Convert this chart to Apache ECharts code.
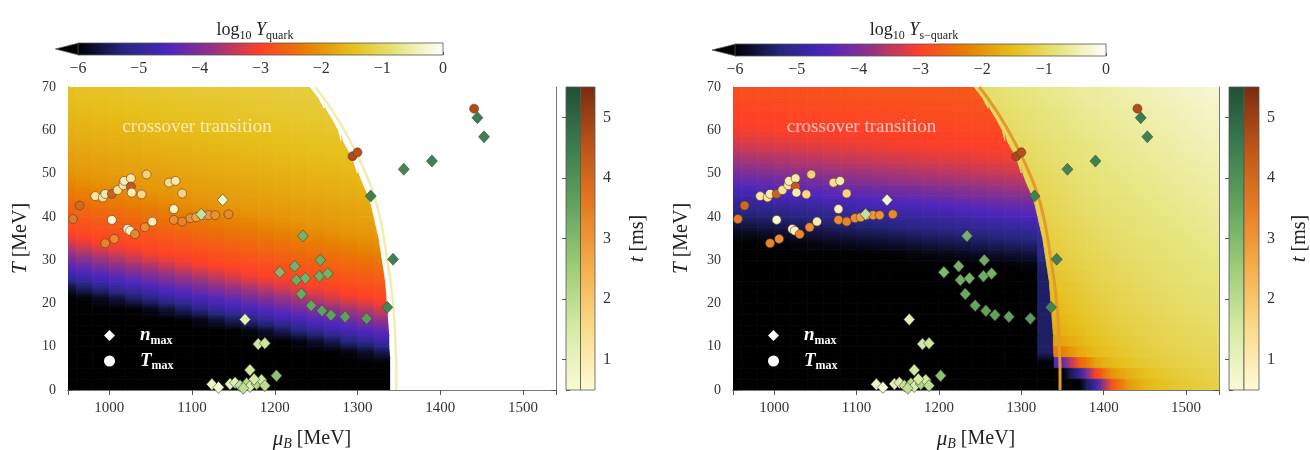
<!DOCTYPE html>
<html><head><meta charset="utf-8">
<script src="https://cdn.jsdelivr.net/npm/echarts@6/dist/echarts.min.js"></script>
<style>html,body{margin:0;padding:0;background:#fff}#c{width:1310px;height:450px}</style>
</head><body><div id="c"></div>
<script>
// ---------- grid of the field (cell centres) ----------
const rowT = [68.75,66.25,63.75,61.25,58.75,56.25,53.75,51.25,48.75,46.25,43.75,41.25,38.75,36.25,33.75,31.25,28.75,26.25,23.75,21.25,18.75,16.25,13.75,11.25,8.75,6.25,3.75,1.25];
// phase boundary muB at the row edges T = 70, 67.5, ..., 0
const boundaryEdgeT  = [70,67.5,65,62.5,60,57.5,55,52.5,50,47.5,45,42.5,40,37.5,35,32.5,30,27.5,25,22.5,20,17.5,15,12.5,10,7.5,5,2.5,0];
const boundaryEdgeMu = [1243,1253,1262,1270,1277,1283,1290,1296,1302,1307,1313,1317,1320,1323,1326,1328,1330,1332,1334,1335,1336,1337,1338,1339,1339,1340,1340,1340,1340];
const muCols = [950,970,990,1010,1030,1050,1070,1090,1110,1130,1150,1170,1190,1210,1230,1250,1270,1290,1310,1330,1350,1370,1390,1410,1430,1450,1470,1490,1510,1530,1550];

// log10 Y_quark, hadronic side (from mu=950 up to the boundary)
const quarkHadron = [
[-1.47,-1.45,-1.44,-1.42,-1.40,-1.38,-1.36,-1.34,-1.33,-1.31,-1.30,-1.29,-1.28,-1.26,-1.25,-1.24],
[-1.52,-1.50,-1.48,-1.47,-1.45,-1.44,-1.42,-1.40,-1.39,-1.37,-1.36,-1.34,-1.33,-1.31,-1.30,-1.29,-1.27],
[-1.58,-1.56,-1.54,-1.52,-1.50,-1.49,-1.47,-1.45,-1.44,-1.42,-1.40,-1.39,-1.37,-1.36,-1.34,-1.33,-1.31],
[-1.66,-1.64,-1.61,-1.59,-1.57,-1.54,-1.53,-1.51,-1.49,-1.47,-1.46,-1.44,-1.42,-1.41,-1.39,-1.38,-1.36],
[-1.73,-1.70,-1.68,-1.66,-1.64,-1.61,-1.59,-1.57,-1.55,-1.53,-1.51,-1.49,-1.48,-1.46,-1.44,-1.43,-1.41,-1.39],
[-1.80,-1.78,-1.75,-1.73,-1.71,-1.68,-1.66,-1.64,-1.62,-1.59,-1.57,-1.55,-1.53,-1.51,-1.50,-1.48,-1.46,-1.44],
[-1.88,-1.85,-1.83,-1.81,-1.78,-1.76,-1.73,-1.71,-1.69,-1.66,-1.64,-1.62,-1.60,-1.57,-1.55,-1.53,-1.51,-1.50],
[-1.96,-1.93,-1.91,-1.88,-1.86,-1.83,-1.81,-1.78,-1.76,-1.74,-1.71,-1.69,-1.67,-1.64,-1.62,-1.60,-1.58,-1.55,-1.53],
[-2.09,-2.03,-1.99,-1.96,-1.94,-1.91,-1.89,-1.86,-1.84,-1.81,-1.79,-1.76,-1.74,-1.72,-1.69,-1.67,-1.65,-1.62,-1.60],
[-2.27,-2.21,-2.15,-2.10,-2.04,-1.99,-1.97,-1.94,-1.92,-1.89,-1.86,-1.84,-1.81,-1.79,-1.76,-1.74,-1.72,-1.69,-1.67],
[-2.45,-2.39,-2.33,-2.28,-2.22,-2.16,-2.10,-2.05,-2.00,-1.97,-1.94,-1.92,-1.89,-1.87,-1.84,-1.82,-1.79,-1.77,-1.74],
[-2.62,-2.56,-2.51,-2.46,-2.40,-2.34,-2.28,-2.22,-2.17,-2.11,-2.05,-2.00,-1.97,-1.95,-1.92,-1.90,-1.87,-1.84,-1.82],
[-2.80,-2.74,-2.69,-2.63,-2.57,-2.51,-2.46,-2.40,-2.35,-2.29,-2.23,-2.18,-2.12,-2.06,-2.00,-1.98,-1.95,-1.92,-1.90,-1.87],
[-2.95,-2.91,-2.86,-2.81,-2.75,-2.69,-2.63,-2.58,-2.52,-2.47,-2.41,-2.36,-2.30,-2.24,-2.18,-2.13,-2.07,-2.01,-1.98,-1.95],
[-3.35,-3.19,-3.06,-2.96,-2.91,-2.86,-2.81,-2.76,-2.70,-2.65,-2.59,-2.53,-2.48,-2.42,-2.36,-2.31,-2.25,-2.19,-2.13,-2.08],
[-3.85,-3.69,-3.53,-3.37,-3.21,-3.07,-2.97,-2.92,-2.87,-2.82,-2.76,-2.71,-2.65,-2.59,-2.53,-2.48,-2.43,-2.37,-2.31,-2.26],
[-4.35,-4.19,-4.03,-3.87,-3.71,-3.55,-3.39,-3.23,-3.08,-2.99,-2.92,-2.88,-2.83,-2.77,-2.71,-2.66,-2.60,-2.54,-2.49,-2.44],
[-4.85,-4.69,-4.53,-4.37,-4.21,-4.05,-3.89,-3.73,-3.57,-3.41,-3.25,-3.09,-2.99,-2.93,-2.88,-2.84,-2.78,-2.72,-2.67,-2.61],
[-5.60,-5.34,-5.10,-4.88,-4.70,-4.55,-4.39,-4.23,-4.07,-3.91,-3.75,-3.59,-3.43,-3.27,-3.11,-3.01,-2.94,-2.89,-2.84,-2.79],
[-6,-5.95,-5.82,-5.62,-5.37,-5.13,-4.90,-4.72,-4.57,-4.41,-4.25,-4.09,-3.93,-3.77,-3.61,-3.45,-3.29,-3.13,-3.02,-2.94],
[-6,-6,-6,-6,-5.96,-5.84,-5.65,-5.40,-5.15,-4.91,-4.74,-4.59,-4.43,-4.27,-4.11,-3.95,-3.79,-3.63,-3.47,-3.31],
[-6,-6,-6,-6,-6,-6,-6,-5.97,-5.86,-5.67,-5.44,-5.19,-4.96,-4.77,-4.61,-4.45,-4.29,-4.13,-3.97,-3.81],
[-6,-6,-6,-6,-6,-6,-6,-6,-6,-6,-5.98,-5.89,-5.72,-5.48,-5.22,-4.99,-4.79,-4.63,-4.47,-4.31],
[-6,-6,-6,-6,-6,-6,-6,-6,-6,-6,-6,-6,-6,-6,-5.90,-5.75,-5.52,-5.24,-5.03,-4.81],
[-6,-6,-6,-6,-6,-6,-6,-6,-6,-6,-6,-6,-6,-6,-6,-6,-6,-5.92,-5.77,-5.55],
[-6,-6,-6,-6,-6,-6,-6,-6,-6,-6,-6,-6,-6,-6,-6,-6,-6,-6,-6,-6],
[-6,-6,-6,-6,-6,-6,-6,-6,-6,-6,-6,-6,-6,-6,-6,-6,-6,-6,-6,-6],
[-6,-6,-6,-6,-6,-6,-6,-6,-6,-6,-6,-6,-6,-6,-6,-6,-6,-6,-6,-6]
];
// log10 Y_quark, deconfined side (from the boundary up to mu=1550): Y = 1
const quarkDeconf = [
[0,0,0,0,0,0,0,0,0,0,0,0,0,0,0,0],
[0,0,0,0,0,0,0,0,0,0,0,0,0,0,0,0],
[0,0,0,0,0,0,0,0,0,0,0,0,0,0,0],
[0,0,0,0,0,0,0,0,0,0,0,0,0,0,0],
[0,0,0,0,0,0,0,0,0,0,0,0,0,0,0],
[0,0,0,0,0,0,0,0,0,0,0,0,0,0],
[0,0,0,0,0,0,0,0,0,0,0,0,0,0],
[0,0,0,0,0,0,0,0,0,0,0,0,0,0],
[0,0,0,0,0,0,0,0,0,0,0,0,0],
[0,0,0,0,0,0,0,0,0,0,0,0,0],
[0,0,0,0,0,0,0,0,0,0,0,0,0],
[0,0,0,0,0,0,0,0,0,0,0,0,0],
[0,0,0,0,0,0,0,0,0,0,0,0],
[0,0,0,0,0,0,0,0,0,0,0,0],
[0,0,0,0,0,0,0,0,0,0,0,0],
[0,0,0,0,0,0,0,0,0,0,0,0],
[0,0,0,0,0,0,0,0,0,0,0,0],
[0,0,0,0,0,0,0,0,0,0,0,0],
[0,0,0,0,0,0,0,0,0,0,0,0],
[0,0,0,0,0,0,0,0,0,0,0,0],
[0,0,0,0,0,0,0,0,0,0,0,0],
[0,0,0,0,0,0,0,0,0,0,0,0],
[0,0,0,0,0,0,0,0,0,0,0,0],
[0,0,0,0,0,0,0,0,0,0,0,0],
[0,0,0,0,0,0,0,0,0,0,0,0],
[0,0,0,0,0,0,0,0,0,0,0,0],
[0,0,0,0,0,0,0,0,0,0,0,0],
[0,0,0,0,0,0,0,0,0,0,0,0]
];
// log10 Y_s-quark, hadronic side
const squarkHadron = [
[-2.85,-2.84,-2.83,-2.82,-2.82,-2.81,-2.80,-2.79,-2.78,-2.77,-2.77,-2.76,-2.75,-2.74,-2.73,-2.72],
[-2.92,-2.91,-2.90,-2.89,-2.88,-2.87,-2.86,-2.85,-2.84,-2.83,-2.83,-2.82,-2.81,-2.80,-2.79,-2.78,-2.77],
[-2.98,-2.97,-2.96,-2.95,-2.94,-2.93,-2.92,-2.91,-2.90,-2.89,-2.88,-2.87,-2.86,-2.86,-2.85,-2.84,-2.83],
[-3.04,-3.03,-3.02,-3.00,-3.00,-2.99,-2.98,-2.97,-2.97,-2.96,-2.95,-2.94,-2.93,-2.92,-2.91,-2.90,-2.89],
[-3.17,-3.14,-3.12,-3.09,-3.07,-3.06,-3.05,-3.04,-3.03,-3.02,-3.00,-3.00,-2.99,-2.98,-2.97,-2.97,-2.96,-2.95],
[-3.38,-3.35,-3.30,-3.28,-3.25,-3.22,-3.20,-3.17,-3.14,-3.12,-3.09,-3.07,-3.06,-3.05,-3.04,-3.03,-3.02,-3.00],
[-3.62,-3.59,-3.55,-3.52,-3.48,-3.45,-3.41,-3.38,-3.34,-3.31,-3.28,-3.25,-3.22,-3.20,-3.17,-3.14,-3.12,-3.09],
[-3.92,-3.87,-3.82,-3.77,-3.73,-3.69,-3.66,-3.62,-3.59,-3.55,-3.51,-3.48,-3.44,-3.41,-3.38,-3.34,-3.31,-3.28,-3.25],
[-4.25,-4.21,-4.16,-4.12,-4.07,-4.02,-3.97,-3.92,-3.87,-3.82,-3.77,-3.73,-3.69,-3.65,-3.62,-3.58,-3.55,-3.51,-3.48],
[-4.58,-4.53,-4.48,-4.42,-4.38,-4.34,-4.29,-4.25,-4.20,-4.16,-4.12,-4.07,-4.02,-3.97,-3.91,-3.86,-3.82,-3.77,-3.72],
[-4.92,-4.87,-4.82,-4.77,-4.72,-4.67,-4.62,-4.58,-4.53,-4.48,-4.42,-4.38,-4.33,-4.29,-4.25,-4.20,-4.16,-4.12,-4.07],
[-5.25,-5.21,-5.16,-5.12,-5.07,-5.03,-4.98,-4.92,-4.87,-4.82,-4.77,-4.72,-4.67,-4.62,-4.57,-4.52,-4.47,-4.42,-4.37],
[-5.55,-5.51,-5.46,-5.42,-5.38,-5.33,-5.29,-5.25,-5.20,-5.16,-5.12,-5.07,-5.03,-4.98,-4.92,-4.87,-4.82,-4.77,-4.72,-4.66],
[-5.85,-5.81,-5.76,-5.72,-5.68,-5.63,-5.59,-5.55,-5.51,-5.46,-5.42,-5.37,-5.33,-5.29,-5.25,-5.20,-5.16,-5.12,-5.07,-4.85],
[-6,-6,-5.98,-5.96,-5.94,-5.90,-5.87,-5.85,-5.80,-5.76,-5.72,-5.67,-5.63,-5.59,-5.55,-5.50,-5.46,-5.42,-5.37,-5.00],
[-6,-6,-6,-6,-6,-6,-6,-6,-6,-5.98,-5.96,-5.94,-5.90,-5.87,-5.84,-5.80,-5.76,-5.72,-5.67,-5.10],
[-6,-6,-6,-6,-6,-6,-6,-6,-6,-6,-6,-6,-6,-6,-6,-6,-5.98,-5.96,-5.93,-5.35],
[-6,-6,-6,-6,-6,-6,-6,-6,-6,-6,-6,-6,-6,-6,-6,-6,-6,-6,-6,-5.40],
[-6,-6,-6,-6,-6,-6,-6,-6,-6,-6,-6,-6,-6,-6,-6,-6,-6,-6,-6,-5.40],
[-6,-6,-6,-6,-6,-6,-6,-6,-6,-6,-6,-6,-6,-6,-6,-6,-6,-6,-6,-5.40],
[-6,-6,-6,-6,-6,-6,-6,-6,-6,-6,-6,-6,-6,-6,-6,-6,-6,-6,-6,-5.40],
[-6,-6,-6,-6,-6,-6,-6,-6,-6,-6,-6,-6,-6,-6,-6,-6,-6,-6,-6,-5.40],
[-6,-6,-6,-6,-6,-6,-6,-6,-6,-6,-6,-6,-6,-6,-6,-6,-6,-6,-6,-5.40],
[-6,-6,-6,-6,-6,-6,-6,-6,-6,-6,-6,-6,-6,-6,-6,-6,-6,-6,-6,-5.40],
[-6,-6,-6,-6,-6,-6,-6,-6,-6,-6,-6,-6,-6,-6,-6,-6,-6,-6,-6,-5.40],
[-6,-6,-6,-6,-6,-6,-6,-6,-6,-6,-6,-6,-6,-6,-6,-6,-6,-6,-6,-6],
[-6,-6,-6,-6,-6,-6,-6,-6,-6,-6,-6,-6,-6,-6,-6,-6,-6,-6,-6,-6],
[-6,-6,-6,-6,-6,-6,-6,-6,-6,-6,-6,-6,-6,-6,-6,-6,-6,-6,-6,-6]
];
// log10 Y_s-quark, deconfined side (ends at mu=1550)
const squarkDeconf = [
[-0.95,-0.88,-0.82,-0.76,-0.70,-0.65,-0.60,-0.56,-0.52,-0.48,-0.44,-0.40,-0.36,-0.32,-0.28,-0.25],
[-0.98,-0.91,-0.85,-0.79,-0.73,-0.68,-0.63,-0.59,-0.55,-0.51,-0.47,-0.43,-0.39,-0.35,-0.31,-0.28],
[-0.97,-0.90,-0.84,-0.78,-0.72,-0.67,-0.62,-0.58,-0.54,-0.50,-0.46,-0.42,-0.38,-0.34,-0.31],
[-1.00,-0.93,-0.87,-0.81,-0.75,-0.70,-0.65,-0.61,-0.57,-0.53,-0.49,-0.45,-0.41,-0.37,-0.34],
[-1.04,-0.97,-0.90,-0.84,-0.78,-0.73,-0.68,-0.64,-0.60,-0.56,-0.52,-0.48,-0.44,-0.40,-0.37],
[-1.03,-0.96,-0.89,-0.83,-0.77,-0.72,-0.67,-0.63,-0.59,-0.55,-0.51,-0.47,-0.43,-0.40],
[-1.07,-0.99,-0.92,-0.86,-0.80,-0.75,-0.70,-0.66,-0.62,-0.58,-0.54,-0.50,-0.46,-0.43],
[-1.11,-1.03,-0.95,-0.89,-0.83,-0.78,-0.73,-0.69,-0.65,-0.61,-0.57,-0.53,-0.49,-0.46],
[-1.08,-1.00,-0.93,-0.87,-0.81,-0.76,-0.72,-0.68,-0.64,-0.60,-0.56,-0.52,-0.49],
[-1.12,-1.04,-0.97,-0.90,-0.84,-0.79,-0.75,-0.71,-0.67,-0.63,-0.59,-0.55,-0.52],
[-1.16,-1.08,-1.00,-0.93,-0.87,-0.82,-0.78,-0.74,-0.70,-0.66,-0.62,-0.58,-0.55],
[-1.20,-1.11,-1.03,-0.96,-0.90,-0.85,-0.81,-0.77,-0.73,-0.69,-0.65,-0.61,-0.58],
[-1.18,-1.09,-1.01,-0.95,-0.89,-0.84,-0.80,-0.76,-0.72,-0.68,-0.64,-0.61],
[-1.22,-1.13,-1.05,-0.98,-0.92,-0.87,-0.83,-0.79,-0.75,-0.71,-0.67,-0.64],
[-1.27,-1.18,-1.09,-1.02,-0.96,-0.91,-0.86,-0.82,-0.78,-0.74,-0.70,-0.67],
[-1.32,-1.22,-1.13,-1.06,-1.00,-0.94,-0.89,-0.85,-0.81,-0.77,-0.73,-0.70],
[-1.38,-1.28,-1.18,-1.10,-1.03,-0.97,-0.92,-0.88,-0.84,-0.80,-0.76,-0.73],
[-1.44,-1.34,-1.23,-1.14,-1.07,-1.01,-0.96,-0.91,-0.87,-0.83,-0.79,-0.76],
[-1.50,-1.40,-1.28,-1.18,-1.11,-1.05,-0.99,-0.94,-0.90,-0.86,-0.82,-0.79],
[-1.56,-1.46,-1.33,-1.23,-1.15,-1.08,-1.02,-0.97,-0.93,-0.89,-0.85,-0.82],
[-1.62,-1.52,-1.39,-1.28,-1.19,-1.12,-1.06,-1.01,-0.96,-0.92,-0.88,-0.85],
[-1.69,-1.59,-1.45,-1.33,-1.24,-1.16,-1.10,-1.05,-1.00,-0.96,-0.92,-0.88],
[-1.78,-1.68,-1.52,-1.39,-1.29,-1.21,-1.14,-1.09,-1.04,-1.00,-0.96,-0.92],
[-1.95,-1.84,-1.62,-1.46,-1.35,-1.26,-1.19,-1.13,-1.08,-1.04,-1.00,-0.96],
[-2.35,-2.25,-1.76,-1.55,-1.42,-1.32,-1.24,-1.18,-1.12,-1.08,-1.04,-1.00],
[-4.50,-4.30,-2.70,-1.85,-1.56,-1.42,-1.32,-1.24,-1.18,-1.13,-1.08,-1.04],
[-6,-6,-5.00,-3.00,-2.00,-1.68,-1.48,-1.36,-1.27,-1.20,-1.14,-1.09],
[-6,-6,-6,-4.80,-2.80,-1.92,-1.62,-1.46,-1.35,-1.27,-1.20,-1.15]
];

// transition line
const lineMu = [1249,1268,1284,1298,1310,1320,1327,1332,1336,1340,1343,1345,1346,1347,1347];
const lineT  = [70,65,60,55,50,45,40,35,30,25,20,15,10,5,0];

// n_max (diamonds): muB, T, t[ms]
const nmaxMu = [1445,1453,1390,1356,1316,1343,1336,1234,1255,1224,1206,1226,1237,1254,1264,1232,1244,1257,1268,1285,1311,1164,1180,1188,1170,1202,1137,1111,1124,1132,1146,1152,1158,1166,1170,1178,1184,1188,1162,1175];
const nmaxT  = [62.9,58.5,52.9,51.0,44.8,30.2,19.1,35.6,30.0,28.6,27.2,25.4,25.8,26.3,26.9,22.2,19.5,18.3,17.3,16.9,16.5,16.3,10.6,10.8,4.6,3.3,43.9,40.6,1.3,0.6,1.4,1.7,1.0,1.5,0.8,1.4,2.3,1.0,0.4,2.5];
const nmaxTime = [4.5,4.4,4.4,4.3,4.4,4.4,4.3,3.2,3.3,3.2,3.0,3.3,3.2,3.3,3.2,3.4,3.5,3.6,3.6,3.6,3.7,1.2,1.6,1.7,1.6,2.8,0.8,1.8,0.9,0.6,1.1,1.3,1.8,2.1,1.4,2.2,1.6,2.0,1.9,1.5];
// T_max (circles)
const tmaxMu = [1441,1294,1300,964,956,983,992,995,1003,1010,1017,1018,1026,1026,1027,1039,1045,1072,1080,1088,1078,1003,1022,1025,1031,1052,1043,995,1006,1078,1088,1098,1105,1112,1120,1128,1144];
const tmaxT  = [65.0,54.0,54.9,42.6,39.5,44.8,44.5,45.3,45.3,46.2,47.3,48.3,48.9,47.0,45.6,45.2,49.8,47.9,48.3,45.4,41.8,39.3,37.2,36.8,36.0,38.9,37.6,33.9,34.9,39.3,38.9,39.7,39.9,40.4,40.4,40.4,40.6];
const tmaxTime = [4.7,4.8,4.6,4.0,3.6,1.2,1.3,1.1,4.2,1.3,1.2,1.0,1.1,4.4,1.0,1.6,1.8,1.5,1.1,1.7,0.8,0.6,0.6,0.8,3.3,1.0,3.2,3.4,3.2,3.2,3.4,3.1,2.8,2.0,3.0,3.1,3.3];

const logRange = [-6, 0];
const timeRange = [0.5, 5.5];
const labelPos = [1106, 60.7];

// ---------- colours ----------
const cmr = ['#000000','#262680','#4d26bf','#993380','#ff4026','#e68000','#e6bf1a','#e6e680','#ffffff'];
const greens = ['#fafad7','#d7eba5','#a0cd78','#64a55f','#3c7d50','#1e5037'];
const oranges = ['#fffad7','#fadc8c','#f5af4b','#e67d23','#be5519','#782d0f'];
const SERIF = 'Liberation Serif';

function hexRgb(h) { return [parseInt(h.slice(1, 3), 16), parseInt(h.slice(3, 5), 16), parseInt(h.slice(5, 7), 16)]; }
const cmrRgb = cmr.map(hexRgb);
function cmap(v) {
  const n = cmrRgb.length - 1;
  const t = Math.max(0, Math.min(1, (v - logRange[0]) / (logRange[1] - logRange[0]))) * n;
  const i = Math.min(Math.floor(t), n - 1), f = t - i;
  const a = cmrRgb[i], b = cmrRgb[i + 1];
  return 'rgb(' + a.map((x, k) => Math.round(x + (b[k] - x) * f)).join(',') + ')';
}

// cell items: [mu, T, value, boundaryTop, boundaryBottom, side, neighbour1, neighbour2]
// hadronic cells are shaded vertically (neighbours above/below), deconfined cells horizontally (left/right)
function cells(hRows, qRows) {
  const map = {}, items = [];
  rowT.forEach((T, r) => {
    const bt = boundaryEdgeMu[r], bb = boundaryEdgeMu[r + 1];
    hRows[r].forEach((v, j) => { items.push([j, T, v, bt, bb, 0, r]); map['0|' + j + '|' + r] = v; });
    const q = qRows[r], off = muCols.length - q.length;
    q.forEach((v, k) => { items.push([off + k, T, v, bt, bb, 1, r]); map['1|' + (off + k) + '|' + r] = v; });
  });
  return items.map(it => {
    const j = it[0], r = it[6], s = it[5];
    const k1 = s === 0 ? s + '|' + j + '|' + (r - 1) : s + '|' + (j - 1) + '|' + r;
    const k2 = s === 0 ? s + '|' + j + '|' + (r + 1) : s + '|' + (j + 1) + '|' + r;
    const n1 = map[k1], n2 = map[k2];
    return [muCols[j], it[1], it[2], it[3], it[4], s, n1 === undefined ? it[2] : n1, n2 === undefined ? it[2] : n2];
  });
}
function cellRender(params, api) {
  const c = api.value(0), T = api.value(1), v = api.value(2), bt = api.value(3), bb = api.value(4), side = api.value(5);
  const n1 = api.value(6), n2 = api.value(7);
  const x0 = c - 10, x1 = c + 10, yT = T + 1.25, yB = T - 1.25;
  const cl = x => Math.max(x0, Math.min(x1, x));
  const a = cl(bt), b = cl(bb);
  let pts;
  if (side === 0) {
    if (a <= x0 && b <= x0) return null;
    pts = [[x0, yT], [a, yT], [b, yB], [x0, yB]];
  } else {
    if (a >= x1 && b >= x1) return null;
    pts = [[a, yT], [x1, yT], [x1, yB], [b, yB]];
  }
  const pTL = api.coord([x0, yT]), pBR = api.coord([x1, yB]);
  const st = [{ offset: 0, color: cmap((v + n1) / 2) }, { offset: 0.5, color: cmap(v) }, { offset: 1, color: cmap((v + n2) / 2) }];
  const grad = side === 0
    ? new echarts.graphic.LinearGradient(0, pTL[1], 0, pBR[1], st, true)
    : new echarts.graphic.LinearGradient(pTL[0], 0, pBR[0], 0, st, true);
  return { type: 'polygon', shape: { points: pts.map(p => api.coord(p)) }, style: { fill: grad, stroke: grad, lineWidth: 0.8 } };
}
function stops(list) { return list.map((c, i) => ({ offset: i / (list.length - 1), color: c })); }
function cbarRender(params, api) {
  const lo = api.value(0), hi = api.value(1);
  const a = api.coord([lo, 1]), b = api.coord([hi, 0]), tip = api.coord([lo - 0.37, 0.5]);
  return { type: 'group', children: [
    { type: 'polygon', shape: { points: [[a[0] + 1, a[1]], [tip[0], tip[1]], [a[0] + 1, b[1]]] }, style: { fill: '#000', stroke: '#555', lineWidth: 0.8 } },
    { type: 'rect', shape: { x: a[0], y: a[1], width: b[0] - a[0], height: b[1] - a[1] },
      style: { fill: new echarts.graphic.LinearGradient(0, 0, 1, 0, stops(cmr)), stroke: '#555', lineWidth: 0.8 } }
  ]};
}
function tbarRender(params, api) {
  const lo = api.value(0), hi = api.value(1);
  const g0 = api.coord([0, hi]), g1 = api.coord([1, lo]), g2 = api.coord([2, lo]);
  return { type: 'group', children: [
    { type: 'rect', shape: { x: g0[0], y: g0[1], width: g1[0] - g0[0], height: g1[1] - g0[1] },
      style: { fill: new echarts.graphic.LinearGradient(0, 1, 0, 0, stops(greens)), stroke: '#555', lineWidth: 0.8 } },
    { type: 'rect', shape: { x: g1[0], y: g0[1], width: g2[0] - g1[0], height: g1[1] - g0[1] },
      style: { fill: new echarts.graphic.LinearGradient(0, 1, 0, 0, stops(oranges)), stroke: '#555', lineWidth: 0.8 } }
  ]};
}

const tick = { show: true, inside: true, length: 5, lineStyle: { color: '#555' } };
const aline = { show: true, lineStyle: { color: '#777', width: 1 } };
function mainAxes(grid, xi) {
  return {
    x: [
      { gridIndex: grid, type: 'value', min: 950, max: 1540, position: 'bottom', axisLine: aline, axisTick: tick, splitLine: { show: false },
        axisLabel: { fontFamily: SERIF, fontSize: 15, color: '#333', margin: 11, showMinLabel: false, showMaxLabel: false, formatter: v => String(v) },
        name: '{i|μ}{s|B} [MeV]', nameLocation: 'middle', nameGap: 37,
        nameTextStyle: { fontFamily: SERIF, fontSize: 20, color: '#222', rich: { i: { fontFamily: SERIF, fontStyle: 'italic', fontSize: 21, color: '#222', lineHeight: 24 }, s: { fontFamily: SERIF, fontStyle: 'italic', fontSize: 14, color: '#222', verticalAlign: 'bottom', lineHeight: 12 } } } },
      { gridIndex: grid, type: 'value', min: 950, max: 1540, position: 'top', axisLine: aline, axisTick: tick, axisLabel: { show: false }, splitLine: { show: false } }
    ],
    y: [
      { gridIndex: grid, type: 'value', min: 0, max: 70, interval: 10, position: 'left', axisLine: aline, axisTick: tick, splitLine: { show: false },
        axisLabel: { fontFamily: SERIF, fontSize: 14, color: '#333', margin: 12 },
        name: '{i|T} [MeV]', nameLocation: 'middle', nameGap: xi, nameRotate: 90,
        nameTextStyle: { fontFamily: SERIF, fontSize: 20, color: '#222', rich: { i: { fontFamily: SERIF, fontStyle: 'italic', fontSize: 21, color: '#222' } } } },
      { gridIndex: grid, type: 'value', min: 0, max: 70, interval: 10, position: 'right', axisLine: aline, axisTick: tick, axisLabel: { show: false }, splitLine: { show: false } }
    ]
  };
}
function cbarAxes(grid) {
  return {
    x: { gridIndex: grid, type: 'value', min: logRange[0], max: logRange[1], interval: 1, axisLine: { show: false },
         axisTick: { show: true, inside: true, length: 3, lineStyle: { color: '#555' } }, splitLine: { show: false },
         axisLabel: { fontFamily: SERIF, fontSize: 16, color: '#333', margin: 6, formatter: v => (v < 0 ? '\u2212' + Math.abs(v) : String(v)) } },
    y: { gridIndex: grid, type: 'value', min: 0, max: 1, show: false }
  };
}
function tbarAxes(grid, gap) {
  return {
    x: { gridIndex: grid, type: 'value', min: 0, max: 2, show: false },
    y: [
      { gridIndex: grid, type: 'value', min: timeRange[0], max: timeRange[1], position: 'right', axisLine: { show: false },
        axisTick: { show: true, inside: true, length: 4, lineStyle: { color: '#555' } }, splitLine: { show: false },
        axisLabel: { fontFamily: SERIF, fontSize: 16, color: '#333', margin: 8, showMinLabel: false, showMaxLabel: false },
        name: '{i|t} [ms]', nameLocation: 'middle', nameGap: gap, nameRotate: 90,
        nameTextStyle: { fontFamily: SERIF, fontSize: 20, color: '#222', rich: { i: { fontFamily: SERIF, fontStyle: 'italic', fontSize: 21, color: '#222' } } } },
      { gridIndex: grid, type: 'value', min: timeRange[0], max: timeRange[1], position: 'left', axisLine: { show: false },
        axisTick: { show: true, inside: true, length: 4, lineStyle: { color: '#555' } }, axisLabel: { show: false }, splitLine: { show: false } }
    ]
  };
}

const mL = mainAxes(0, 37), cL = cbarAxes(1), tL = tbarAxes(2, 32);
const mR = mainAxes(3, 41), cR = cbarAxes(4), tR = tbarAxes(5, 30);

const xAxis = [mL.x[0], mL.x[1], cL.x, tL.x, mR.x[0], mR.x[1], cR.x, tR.x];
const yAxis = [mL.y[0], mL.y[1], cL.y, tL.y[0], tL.y[1], mR.y[0], mR.y[1], cR.y, tR.y[0], tR.y[1]];

const nmaxData = nmaxMu.map((m, i) => [m, nmaxT[i], nmaxTime[i]]);
const tmaxData = tmaxMu.map((m, i) => [m, tmaxT[i], tmaxTime[i]]);
const lineData = lineMu.map((m, i) => [m, lineT[i]]);

function panelSeries(xi, yi, cbx, cby, tbx, tby, field, lineColor, lineWidth, txtColor) {
  return [
    { type: 'custom', name: 'field', xAxisIndex: xi, yAxisIndex: yi, renderItem: cellRender, clip: true, z: 1,
      dimensions: ['mu', 'T', 'v', 'bt', 'bb', 'side', 'n1', 'n2'], encode: { x: 0, y: 1 }, data: field, silent: true },
    { type: 'line', name: 'transition', xAxisIndex: xi, yAxisIndex: yi, data: lineData, smooth: true, symbol: 'none', clip: true, z: 2,
      lineStyle: { color: lineColor, width: lineWidth }, silent: true },
    { type: 'scatter', name: 'Tmax', xAxisIndex: xi, yAxisIndex: yi, data: tmaxData, symbol: 'circle', symbolSize: 9, z: 3,
      itemStyle: { borderColor: 'rgba(90,60,40,0.75)', borderWidth: 0.8, opacity: 1 } },
    { type: 'scatter', name: 'nmax', xAxisIndex: xi, yAxisIndex: yi, data: nmaxData, symbol: 'diamond', symbolSize: [11, 12], z: 4,
      itemStyle: { borderColor: 'rgba(60,70,60,0.75)', borderWidth: 0.8, opacity: 1 } },
    { type: 'scatter', name: 'label', xAxisIndex: xi, yAxisIndex: yi, data: [labelPos], symbolSize: 1, z: 5, silent: true,
      itemStyle: { color: 'rgba(0,0,0,0)' },
      label: { show: true, position: 'inside', formatter: 'crossover transition', fontFamily: SERIF, fontSize: 19, color: txtColor } },
    { type: 'custom', name: 'cbar', xAxisIndex: cbx, yAxisIndex: cby, renderItem: cbarRender, clip: false, encode: { x: [0, 1] }, data: [logRange], silent: true },
    { type: 'custom', name: 'tbar', xAxisIndex: tbx, yAxisIndex: tby, renderItem: tbarRender, clip: false, encode: { y: [0, 1] }, data: [timeRange], silent: true }
  ];
}

const series = [].concat(
  panelSeries(0, 0, 2, 2, 3, 3, cells(quarkHadron, quarkDeconf), '#f1ecb0', 2.5, 'rgba(255,250,232,0.95)'),
  panelSeries(4, 5, 6, 7, 7, 8, cells(squarkHadron, squarkDeconf), '#e39a2c', 3, 'rgba(255,236,236,0.95)')
);

const titleRich = {
  a: { fontFamily: SERIF, fontSize: 18, fontWeight: 'normal', color: '#222', lineHeight: 24 },
  c: { fontFamily: SERIF, fontSize: 18, fontWeight: 'normal', fontStyle: 'italic', color: '#222', lineHeight: 24 },
  b: { fontFamily: SERIF, fontSize: 12, fontWeight: 'normal', color: '#222', verticalAlign: 'bottom', lineHeight: 13 }
};
const legendRich = {
  i: { fontFamily: SERIF, fontStyle: 'italic', fontWeight: 'bold', fontSize: 19, color: '#fff', lineHeight: 22, padding: [0, 0, 0, 20] },
  s: { fontFamily: SERIF, fontWeight: 'bold', fontSize: 12, color: '#fff', verticalAlign: 'bottom', lineHeight: 12 }
};
function legendAt(left) {
  return { orient: 'vertical', left: left, top: 321, itemWidth: 11, itemHeight: 11, itemGap: 5, selectedMode: false,
    data: [{ name: 'nmax', icon: 'diamond' }, { name: 'Tmax', icon: 'circle' }],
    itemStyle: { color: '#ffffff', borderWidth: 0 },
    formatter: n => (n === 'nmax' ? '{i|n}{s|max}' : '{i|T}{s|max}'),
    textStyle: { color: '#fff', rich: legendRich } };
}

const G = (l, t, w, h) => ({ left: l, top: t, width: w, height: h, containLabel: false, outerBoundsMode: 'none' });
const option = {
  animation: false,
  backgroundColor: '#ffffff',
  textStyle: { fontFamily: SERIF },
  title: [
    { text: '{a|log}{b|10} {c|Y}{b|quark}', left: 250, top: 13, textAlign: 'center', textStyle: { fontWeight: 'normal', rich: titleRich } },
    { text: '{a|log}{b|10} {c|Y}{b|s\u2212quark}', left: 909, top: 13, textAlign: 'center', textStyle: { fontWeight: 'normal', rich: titleRich } }
  ],
  grid: [
    G(68, 87, 488, 303),
    G(78, 43, 365, 12),
    G(566, 87, 29, 303),
    G(733, 87, 486, 303),
    G(735, 44, 371, 12),
    G(1229, 87, 30, 303)
  ],
  xAxis: xAxis,
  yAxis: yAxis,
  legend: [legendAt(99), legendAt(763)],
  visualMap: [
    { type: 'continuous', show: false, seriesIndex: [3, 10], dimension: 2, min: timeRange[0], max: timeRange[1], inRange: { color: greens } },
    { type: 'continuous', show: false, seriesIndex: [2, 9], dimension: 2, min: timeRange[0], max: timeRange[1], inRange: { color: oranges } }
  ],
  series: series
};
const chart = echarts.init(document.getElementById('c'), null, { renderer: 'canvas' });
chart.setOption(option);
</script></body></html>
